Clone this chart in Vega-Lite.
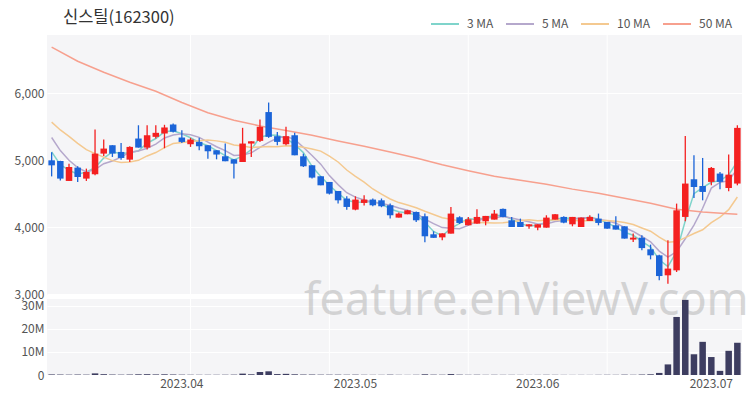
{
  "$schema": "https://vega.github.io/schema/vega-lite/v6.json",
  "padding": {"left": 12, "top": 9, "right": 6, "bottom": 4},
  "background": "white",
  "bounds": "flush",
  "title": {"text": "신스틸(162300)", "anchor": "start", "frame": "group", "font": "Noto Sans CJK KR", "fontSize": 16.5, "fontWeight": "normal", "color": "#333333", "offset": -17, "dx": 16},
  "config": {
    "view": {"stroke": null, "fill": "#f5f5f7"},
    "axis": {"labelFont": "Noto Sans CJK KR", "labelFontSize": 12, "labelColor": "#555555", "ticks": false, "domain": false, "gridColor": "#ffffff", "gridWidth": 1, "labelPadding": 3, "labelOverlap": false},
    "axisY": {"minExtent": 35, "maxExtent": 35},
    "legend": {"orient": "none", "legendX": 383, "legendY": -26, "direction": "horizontal", "symbolType": "stroke", "symbolStrokeWidth": 2, "symbolSize": 784, "labelFont": "Noto Sans CJK KR", "labelFontSize": 12, "labelColor": "#555555", "columnPadding": 8, "labelOffset": 7}
  },
  "datasets": {
    "p": [
      {"d":"2023-03-13","o":5000,"h":5120,"l":4760,"c":4925,"v":250000,"m3":5125,"m5":5340,"m10":5570,"m50":6688},
      {"d":"2023-03-14","o":4990,"h":4995,"l":4700,"c":4727,"v":200000,"m3":4934,"m5":5145,"m10":5453},
      {"d":"2023-03-15","o":4692,"h":4950,"l":4692,"c":4900,"v":150000,"m3":4851,"m5":5000,"m10":5358},
      {"d":"2023-03-16","o":4891,"h":4911,"l":4677,"c":4751,"v":200000,"m3":4793,"m5":4891,"m10":5253,"m50":6479},
      {"d":"2023-03-17","o":4727,"h":4876,"l":4692,"c":4826,"v":150000,"m3":4826,"m5":4826,"m10":5160},
      {"d":"2023-03-20","o":4792,"h":5460,"l":4777,"c":5100,"v":700000,"m3":4892,"m5":4861,"m10":5100},
      {"d":"2023-03-21","o":5100,"h":5310,"l":5065,"c":5175,"v":350000,"m3":5034,"m5":4950,"m10":5048,"m50":6314},
      {"d":"2023-03-22","o":5225,"h":5225,"l":5050,"c":5100,"v":200000,"m3":5125,"m5":4990,"m10":4995},
      {"d":"2023-03-23","o":5125,"h":5260,"l":5010,"c":5035,"v":150000,"m3":5103,"m5":5047,"m10":4969},
      {"d":"2023-03-24","o":5010,"h":5210,"l":4975,"c":5200,"v":200000,"m3":5112,"m5":5122,"m10":4974,"m50":6165},
      {"d":"2023-03-27","o":5325,"h":5523,"l":5190,"c":5190,"v":300000,"m3":5142,"m5":5140,"m10":5000},
      {"d":"2023-03-28","o":5190,"h":5523,"l":5160,"c":5374,"v":350000,"m3":5255,"m5":5180,"m10":5065},
      {"d":"2023-03-29","o":5350,"h":5523,"l":5325,"c":5410,"v":250000,"m3":5325,"m5":5242,"m10":5116,"m50":6030},
      {"d":"2023-03-30","o":5400,"h":5530,"l":5180,"c":5490,"v":300000,"m3":5425,"m5":5333,"m10":5190},
      {"d":"2023-03-31","o":5534,"h":5549,"l":5414,"c":5425,"v":200000,"m3":5442,"m5":5378,"m10":5250},
      {"d":"2023-04-03","o":5340,"h":5450,"l":5260,"c":5274,"v":150000,"m3":5396,"m5":5395,"m10":5267,"m50":5862},
      {"d":"2023-04-04","o":5240,"h":5335,"l":5200,"c":5310,"v":120000,"m3":5336,"m5":5382,"m10":5281},
      {"d":"2023-04-05","o":5275,"h":5335,"l":5150,"c":5210,"v":100000,"m3":5265,"m5":5342,"m10":5292},
      {"d":"2023-04-06","o":5225,"h":5225,"l":5025,"c":5135,"v":100000,"m3":5218,"m5":5271,"m10":5302,"m50":5710},
      {"d":"2023-04-07","o":5150,"h":5150,"l":5015,"c":5086,"v":100000,"m3":5144,"m5":5203,"m10":5290},
      {"d":"2023-04-10","o":5060,"h":5250,"l":4986,"c":4986,"v":120000,"m3":5069,"m5":5145,"m10":5270},
      {"d":"2023-04-11","o":5015,"h":5015,"l":4727,"c":4950,"v":150000,"m3":5007,"m5":5073,"m10":5228,"m50":5598},
      {"d":"2023-04-12","o":4975,"h":5485,"l":4975,"c":5250,"v":600000,"m3":5062,"m5":5081,"m10":5212},
      {"d":"2023-04-13","o":5250,"h":5284,"l":5050,"c":5284,"v":300000,"m3":5161,"m5":5111,"m10":5191},
      {"d":"2023-04-14","o":5290,"h":5608,"l":5274,"c":5500,"v":1300000,"m3":5345,"m5":5194,"m10":5199,"m50":5513},
      {"d":"2023-04-17","o":5720,"h":5862,"l":5335,"c":5350,"v":1600000,"m3":5378,"m5":5267,"m10":5206},
      {"d":"2023-04-18","o":5360,"h":5423,"l":5225,"c":5275,"v":400000,"m3":5375,"m5":5332,"m10":5203},
      {"d":"2023-04-19","o":5240,"h":5500,"l":5225,"c":5360,"v":500000,"m3":5328,"m5":5354,"m10":5218,"m50":5445},
      {"d":"2023-04-20","o":5374,"h":5410,"l":5075,"c":5075,"v":300000,"m3":5237,"m5":5312,"m10":5212},
      {"d":"2023-04-21","o":5060,"h":5100,"l":4900,"c":4911,"v":200000,"m3":5115,"m5":5194,"m10":5194},
      {"d":"2023-04-24","o":4926,"h":4926,"l":4727,"c":4742,"v":200000,"m3":4909,"m5":5073,"m10":5170,"m50":5374},
      {"d":"2023-04-25","o":4762,"h":4762,"l":4627,"c":4627,"v":150000,"m3":4760,"m5":4943,"m10":5137},
      {"d":"2023-04-26","o":4677,"h":4677,"l":4490,"c":4503,"v":150000,"m3":4624,"m5":4772,"m10":5063},
      {"d":"2023-04-27","o":4542,"h":4542,"l":4354,"c":4403,"v":150000,"m3":4511,"m5":4637,"m10":4975,"m50":5289},
      {"d":"2023-04-28","o":4429,"h":4463,"l":4264,"c":4304,"v":120000,"m3":4403,"m5":4516,"m10":4855},
      {"d":"2023-05-02","o":4264,"h":4463,"l":4254,"c":4414,"v":150000,"m3":4374,"m5":4450,"m10":4761},
      {"d":"2023-05-03","o":4364,"h":4478,"l":4324,"c":4414,"v":100000,"m3":4377,"m5":4408,"m10":4675,"m50":5210},
      {"d":"2023-05-04","o":4414,"h":4430,"l":4314,"c":4329,"v":80000,"m3":4386,"m5":4373,"m10":4572},
      {"d":"2023-05-08","o":4403,"h":4430,"l":4300,"c":4314,"v":80000,"m3":4352,"m5":4355,"m10":4496},
      {"d":"2023-05-09","o":4329,"h":4354,"l":4130,"c":4180,"v":150000,"m3":4274,"m5":4330,"m10":4423,"m50":5125},
      {"d":"2023-05-10","o":4145,"h":4220,"l":4145,"c":4205,"v":80000,"m3":4233,"m5":4288,"m10":4369},
      {"d":"2023-05-11","o":4195,"h":4260,"l":4195,"c":4254,"v":60000,"m3":4213,"m5":4256,"m10":4332},
      {"d":"2023-05-12","o":4229,"h":4235,"l":4080,"c":4105,"v":100000,"m3":4188,"m5":4212,"m10":4292,"m50":5035},
      {"d":"2023-05-15","o":4165,"h":4205,"l":3776,"c":3866,"v":300000,"m3":4075,"m5":4122,"m10":4239},
      {"d":"2023-05-16","o":3896,"h":3940,"l":3843,"c":3843,"v":150000,"m3":3938,"m5":4055,"m10":4192},
      {"d":"2023-05-17","o":3850,"h":3910,"l":3806,"c":3910,"v":120000,"m3":3873,"m5":3996,"m10":4142,"m50":4935},
      {"d":"2023-05-18","o":3906,"h":4304,"l":3906,"c":4205,"v":400000,"m3":3986,"m5":3986,"m10":4121},
      {"d":"2023-05-19","o":4150,"h":4165,"l":4050,"c":4065,"v":150000,"m3":4060,"m5":3978,"m10":4095},
      {"d":"2023-05-22","o":4030,"h":4155,"l":4030,"c":4120,"v":100000,"m3":4130,"m5":4029,"m10":4075,"m50":4845},
      {"d":"2023-05-23","o":4055,"h":4270,"l":4055,"c":4155,"v":120000,"m3":4113,"m5":4091,"m10":4073},
      {"d":"2023-05-24","o":4090,"h":4170,"l":4030,"c":4170,"v":80000,"m3":4148,"m5":4143,"m10":4069},
      {"d":"2023-05-25","o":4115,"h":4260,"l":4115,"c":4205,"v":100000,"m3":4177,"m5":4143,"m10":4064,"m50":4762},
      {"d":"2023-05-26","o":4275,"h":4280,"l":4150,"c":4155,"v":80000,"m3":4177,"m5":4161,"m10":4069},
      {"d":"2023-05-30","o":4105,"h":4155,"l":4005,"c":4005,"v":80000,"m3":4122,"m5":4138,"m10":4083},
      {"d":"2023-05-31","o":4080,"h":4130,"l":4005,"c":4005,"v":60000,"m3":4055,"m5":4108,"m10":4100,"m50":4702},
      {"d":"2023-06-01","o":4015,"h":4045,"l":3980,"c":4045,"v":50000,"m3":4018,"m5":4083,"m10":4113},
      {"d":"2023-06-02","o":3995,"h":4045,"l":3955,"c":4045,"v":60000,"m3":4032,"m5":4051,"m10":4097},
      {"d":"2023-06-05","o":3995,"h":4180,"l":3995,"c":4145,"v":100000,"m3":4078,"m5":4049,"m10":4105,"m50":4642},
      {"d":"2023-06-07","o":4115,"h":4200,"l":4115,"c":4195,"v":80000,"m3":4128,"m5":4087,"m10":4113},
      {"d":"2023-06-08","o":4155,"h":4165,"l":4060,"c":4070,"v":60000,"m3":4137,"m5":4100,"m10":4104},
      {"d":"2023-06-09","o":4045,"h":4155,"l":4015,"c":4155,"v":50000,"m3":4140,"m5":4122,"m10":4103,"m50":4570},
      {"d":"2023-06-12","o":4005,"h":4145,"l":4005,"c":4145,"v":60000,"m3":4123,"m5":4142,"m10":4097},
      {"d":"2023-06-13","o":4095,"h":4180,"l":4095,"c":4155,"v":50000,"m3":4152,"m5":4144,"m10":4097},
      {"d":"2023-06-14","o":4130,"h":4205,"l":4030,"c":4065,"v":80000,"m3":4122,"m5":4118,"m10":4103,"m50":4508},
      {"d":"2023-06-15","o":4080,"h":4080,"l":3980,"c":3980,"v":100000,"m3":4067,"m5":4100,"m10":4100},
      {"d":"2023-06-16","o":4030,"h":4165,"l":3966,"c":3966,"v":80000,"m3":4004,"m5":4062,"m10":4092},
      {"d":"2023-06-19","o":4015,"h":4015,"l":3832,"c":3832,"v":150000,"m3":3926,"m5":4000,"m10":4071,"m50":4433},
      {"d":"2023-06-20","o":3817,"h":3906,"l":3782,"c":3846,"v":100000,"m3":3881,"m5":3938,"m10":4041},
      {"d":"2023-06-21","o":3845,"h":3880,"l":3657,"c":3690,"v":200000,"m3":3789,"m5":3863,"m10":3990},
      {"d":"2023-06-22","o":3672,"h":3742,"l":3522,"c":3582,"v":300000,"m3":3706,"m5":3783,"m10":3942,"m50":4359},
      {"d":"2023-06-23","o":3582,"h":3592,"l":3209,"c":3273,"v":900000,"m3":3515,"m5":3645,"m10":3853},
      {"d":"2023-06-26","o":3284,"h":3806,"l":3159,"c":3384,"v":4600000,"m3":3413,"m5":3555,"m10":3777},
      {"d":"2023-06-27","o":3358,"h":4354,"l":3333,"c":4254,"v":25200000,"m3":3637,"m5":3637,"m10":3787,"m50":4269},
      {"d":"2023-06-28","o":4155,"h":5363,"l":4090,"c":4653,"v":32600000,"m3":4097,"m5":3829,"m10":3846},
      {"d":"2023-06-29","o":4717,"h":5075,"l":4438,"c":4602,"v":9000000,"m3":4503,"m5":4033,"m10":3908},
      {"d":"2023-06-30","o":4617,"h":5035,"l":4403,"c":4528,"v":14400000,"m3":4594,"m5":4284,"m10":3964,"m50":4229},
      {"d":"2023-07-03","o":4678,"h":4901,"l":4627,"c":4886,"v":7800000,"m3":4672,"m5":4585,"m10":4070},
      {"d":"2023-07-04","o":4802,"h":4827,"l":4567,"c":4678,"v":1800000,"m3":4697,"m5":4669,"m10":4153},
      {"d":"2023-07-05","o":4587,"h":5085,"l":4538,"c":4786,"v":10500000,"m3":4783,"m5":4696,"m10":4263,"m50":4202},
      {"d":"2023-07-06","o":4653,"h":5523,"l":4627,"c":5484,"v":14000000,"m3":4983,"m5":4872,"m10":4453,"m50":4194}
    ],
    "grid": [{"g":"2023-04-04"},{"g":"2023-04-26"},{"g":"2023-05-22"},{"g":"2023-06-15"}]
  },
  "spacing": 4,
  "resolve": {"scale": {"x": "shared"}},
  "vconcat": [
    {
      "width": 695,
      "height": 260,
      "data": {"name": "p"},
      "layer": [
        {
          "data": {"name": "grid"},
          "mark": {"type": "rule", "color": "#ffffff", "strokeWidth": 1},
          "encoding": {"x": {"field": "g", "type": "ordinal", "axis": null}}
        },
        {
          "transform": [{"fold": ["m3", "m5", "m10", "m50"], "as": ["k", "val"]}, {"filter": "isValid(datum.val)"}],
          "mark": {"type": "line", "strokeWidth": 1.5},
          "encoding": {
            "x": {"field": "d", "type": "ordinal", "axis": null, "scale": {"paddingInner": 0.25, "paddingOuter": 0.16}},
            "y": {"field": "val", "type": "quantitative", "title": null, "scale": {"domain": [2990, 6870], "nice": false, "zero": false}, "axis": {"values": [3000, 4000, 5000, 6000], "labelExpr": "format(datum.value, ',')", "title": null, "grid": true}},
            "color": {"field": "k", "type": "nominal", "scale": {"domain": ["m3", "m5", "m10", "m50"], "range": ["#7fd4cb", "#b5a8cc", "#f4c990", "#f7a08e"]}, "legend": {"title": null, "labelExpr": "datum.label == 'm3' ? '3 MA' : datum.label == 'm5' ? '5 MA' : datum.label == 'm10' ? '10 MA' : '50 MA'"}}
          }
        },
        {
          "mark": {"type": "rule", "strokeWidth": 1.3},
          "encoding": {
            "x": {"field": "d", "type": "ordinal", "axis": null},
            "y": {"field": "l", "type": "quantitative", "title": null},
            "y2": {"field": "h"},
            "color": {"condition": {"test": "datum.c >= datum.o", "value": "#f42020"}, "value": "#1b64d8"}
          }
        },
        {
          "mark": {"type": "bar"},
          "encoding": {
            "x": {"field": "d", "type": "ordinal", "axis": null},
            "y": {"field": "o", "type": "quantitative", "title": null},
            "y2": {"field": "c"},
            "color": {"condition": {"test": "datum.c >= datum.o", "value": "#f42020"}, "value": "#1b64d8"}
          }
        }
      ]
    },
    {
      "width": 695,
      "height": 76,
      "data": {"name": "p"},
      "encoding": {
        "y": {"field": "v", "type": "quantitative", "title": null, "scale": {"domain": [0, 33000000], "nice": false}, "axis": {"values": [0, 10000000, 20000000, 30000000], "labelExpr": "datum.value == 0 ? '0' : (datum.value / 1000000) + 'M'", "title": null, "grid": true, "labelOverlap": false, "labelBound": false}}
      },
      "layer": [
        {
          "data": {"name": "grid"},
          "mark": {"type": "rule", "color": "#ffffff", "strokeWidth": 1},
          "encoding": {"x": {"field": "g", "type": "ordinal", "title": null}, "y": null}
        },
        {
          "data": {"values": [{"w": "feature.enViewV.com"}]},
          "mark": {"type": "text", "font": "Noto Sans", "fontSize": 45, "color": "#b0b0b0", "opacity": 0.5, "align": "center", "baseline": "middle", "dx": 6, "dy": -36},
          "encoding": {
            "text": {"field": "w"},
            "x": {"datum": "2023-05-31", "type": "ordinal", "title": null},
            "y": null
          }
        },
        {
          "mark": {"type": "bar", "color": "#3d3d60"},
          "encoding": {
            "x": {"field": "d", "type": "ordinal", "title": null, "axis": {"values": ["2023-04-03", "2023-05-02", "2023-06-02", "2023-07-03"], "labelExpr": "replace(substring(datum.value, 0, 7), '-', '.')", "labelAngle": 0, "labelAlign": "center", "labelBaseline": "top", "title": null, "labelPadding": 3}}
          }
        }
      ]
    }
  ]
}
